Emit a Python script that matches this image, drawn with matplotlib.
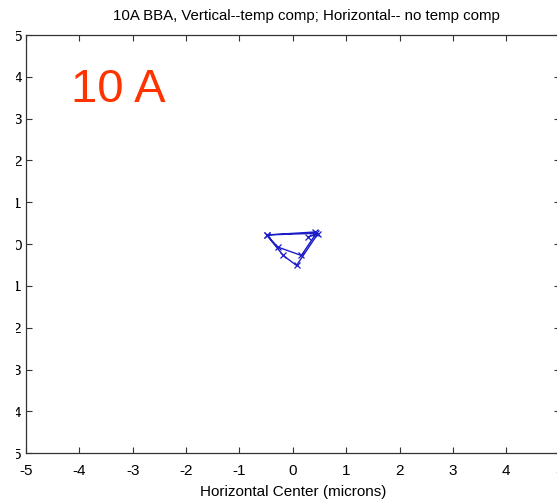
import matplotlib.pyplot as plt
from matplotlib.patches import Rectangle

# beam position readings (microns) in plotting order
horiz = [0.41, -0.49, -0.28, 0.16, 0.44, -0.49, -0.18, 0.07, 0.47, 0.29]
vert = [0.29, 0.22, -0.07, -0.27, 0.26, 0.22, -0.27, -0.51, 0.25, 0.17]

ticks = [-5, -4, -3, -2, -1, 0, 1, 2, 3, 4, 5]
tick_labels = ["-5", "-4", "-3", "-2", "-1", "0", "1", "2", "3", "4", "5"]

plt.rcParams["font.family"] = ["Liberation Sans", "DejaVu Sans"]

W, H = 557, 501
fig = plt.figure(figsize=(W / 100, H / 100), dpi=100)
ax = fig.add_axes([26 / W, (H - 453.3) / H, 533.6 / W, 418.3 / H])

ax.plot(horiz, vert, "-x", color="#1c1cc8", lw=1.0, ms=5, mew=0.9)

ax.set_xlim(-5, 5)
ax.set_ylim(-5, 5)
ax.set_xticks(ticks)
ax.set_xticklabels(tick_labels)
ax.set_yticks(ticks)
ax.set_yticklabels(tick_labels)
ax.tick_params(direction="in", length=4, width=0.8, color="#333333",
               top=True, right=True, labelsize=11)
ax.tick_params("x", pad=8)
ax.tick_params("y", pad=3)
for s in ax.spines.values():
    s.set_color("#333333")
    s.set_linewidth(0.9)

ax.set_xlabel("Horizontal Center (microns)", fontsize=11, labelpad=5)
fig.text(306 / W, 1 - 16 / H,
         "10A BBA, Vertical--temp comp; Horizontal-- no temp comp",
         ha="center", va="center", fontsize=10.8)
fig.text(71 / W, 1 - 101.7 / H, "10 A", color="#ff3300", fontsize=34,
         ha="left", va="baseline")

# left part of the vertical tick labels is hidden in the original
fig.patches.append(Rectangle((0, 0), 16 / W, 1, transform=fig.transFigure,
                             facecolor="white", edgecolor="none", zorder=10))

fig.savefig("out.png", dpi=100)
